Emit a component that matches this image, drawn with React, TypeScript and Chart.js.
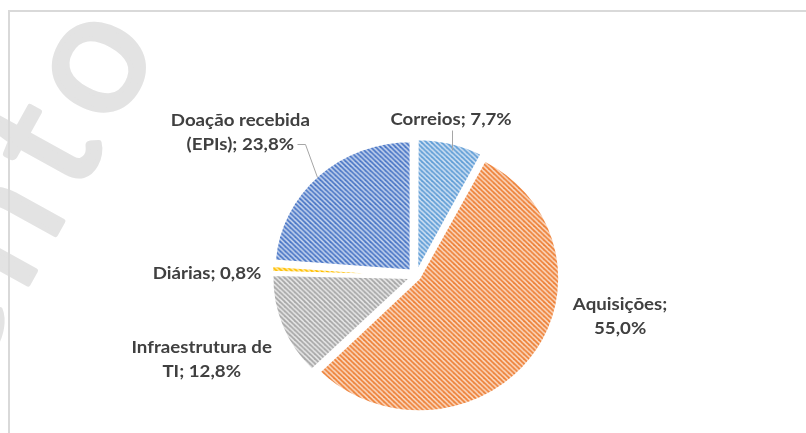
import React, { useEffect, useRef } from "react";
import { Chart, registerables } from "chart.js";

Chart.register(...registerables);

// ---- data ----
const categories = ["Correios", "Aquisições", "Infraestrutura de TI", "Diárias", "Doação recebida (EPIs)"];
const shares = [7.7, 55.0, 12.8, 0.8, 23.8];
const labelLines = [
  ["Correios; 7,7%"],
  ["Aquisições;", "55,0%"],
  ["Infraestrutura de", "TI; 12,8%"],
  ["Diárias; 0,8%"],
  ["Doação recebida", "(EPIs); 23,8%"],
];
const watermarkText = "Documento";

// ---- styles ----
const stripeColors = ["#5B9BD5", "#ED7D31", "#A5A5A5", "#FFC000", "#4472C4"];
const backColors = ["#d3e3f4", "#fbdcc7", "#e9e9e9", "#ffe7a0", "#cbd8f0"];

// label placement: angle shift from slice mid-angle (deg) and distance (px) from pie centre
const labelPlacement = [
  { shift: -1.2, dist: 160 },
  { shift: -25.5, dist: 208 },
  { shift: 0.2, dist: 230 },
  { shift: -2.2, dist: 209 },
  { shift: -7.9, dist: 227 },
];
// leader lines relative to pie centre
const leaders: Record<number, [number, number][]> = {
  0: [[36, -146], [36, -126]],
  4: [[-119, -132], [-111, -132], [-99, -99]],
};

const W = 806;
const H = 433;
const CX = 416;
const CY = 276;
const RADIUS = 136;
const SQUASH = 0.95;
const EXPLODE = 8;
const TEXT_STRETCH = 1.1;

function makePattern(stripe: string, back: string): CanvasPattern | string {
  const p = 5;
  const c = document.createElement("canvas");
  c.width = p;
  c.height = p;
  const g = c.getContext("2d");
  if (!g) return stripe;
  g.fillStyle = back;
  g.fillRect(0, 0, p, p);
  g.strokeStyle = stripe;
  g.lineWidth = 1.8;
  for (let k = -2; k <= 2; k++) {
    g.beginPath();
    g.moveTo(-p, -p + k * p);
    g.lineTo(2 * p, 2 * p + k * p);
    g.stroke();
  }
  const pat = g.createPattern(c, "repeat");
  return pat || stripe;
}

const decorPlugin = {
  id: "decor",
  beforeDraw(chart: any) {
    const ctx = chart.ctx as CanvasRenderingContext2D;
    ctx.save();
    ctx.fillStyle = "#ffffff";
    ctx.fillRect(0, 0, W, H);
    // watermark (drawn letter by letter, ending at the anchor)
    ctx.save();
    ctx.translate(160, 46);
    ctx.rotate((-61 * Math.PI) / 180);
    ctx.font = "170px Lato";
    ctx.fillStyle = "#e3e3e3";
    ctx.strokeStyle = "#e3e3e3";
    ctx.lineWidth = 5;
    ctx.lineJoin = "round";
    ctx.textAlign = "left";
    ctx.textBaseline = "alphabetic";
    const chars = watermarkText.split("");
    let x = 0;
    for (let i = chars.length - 1; i >= 0; i--) {
      const w = ctx.measureText(chars[i]).width;
      x -= w;
      ctx.fillText(chars[i], x, 0);
      ctx.strokeText(chars[i], x, 0);
      x -= 16;
    }
    ctx.restore();
    // frame
    ctx.fillStyle = "#d9d9d9";
    ctx.fillRect(8, 10, W - 8, 2);
    ctx.fillRect(8, 10, 2, H - 10);
    ctx.restore();
  },
  beforeDatasetsDraw(chart: any) {
    const ctx = chart.ctx as CanvasRenderingContext2D;
    const meta = chart.getDatasetMeta(0);
    const a = meta.data[0];
    ctx.save();
    ctx.translate(a.x, a.y);
    ctx.scale(1, SQUASH);
    ctx.translate(-a.x, -a.y);
  },
  afterDatasetsDraw(chart: any) {
    chart.ctx.restore();
  },
  afterDraw(chart: any) {
    const ctx = chart.ctx as CanvasRenderingContext2D;
    const meta = chart.getDatasetMeta(0);
    ctx.save();
    ctx.font = "bold 17px Lato";
    ctx.fillStyle = "#404040";
    ctx.textAlign = "center";
    ctx.textBaseline = "middle";
    meta.data.forEach((arc: any, i: number) => {
      const mid = (arc.startAngle + arc.endAngle) / 2;
      const pl = labelPlacement[i];
      const th = mid + (pl.shift * Math.PI) / 180;
      const x = arc.x + Math.cos(th) * pl.dist;
      const y = arc.y + Math.sin(th) * pl.dist;
      const lines = labelLines[i];
      const lh = 24;
      lines.forEach((t, j) => {
        ctx.save();
        ctx.translate(x, y + (j - (lines.length - 1) / 2) * lh);
        ctx.scale(TEXT_STRETCH, 1);
        ctx.fillText(t, 0, 0);
        ctx.restore();
      });
      const ld = leaders[i];
      if (ld) {
        ctx.strokeStyle = "#a6a6a6";
        ctx.lineWidth = 1;
        ctx.beginPath();
        ld.forEach(([dx, dy], k) => {
          const px = Math.round(arc.x + dx) + 0.5;
          const py = Math.round(arc.y + dy) + 0.5;
          if (k === 0) ctx.moveTo(px, py);
          else ctx.lineTo(px, py);
        });
        ctx.stroke();
      }
    });
    ctx.restore();
  },
};

export default function App() {
  const ref = useRef<HTMLCanvasElement | null>(null);
  useEffect(() => {
    if (!ref.current) return;
    const total = shares.reduce((s, v) => s + v, 0);
    const fills = stripeColors.map((s, i) => makePattern(s, backColors[i]));
    const chart = new Chart(ref.current, {
      type: "pie",
      data: {
        labels: categories,
        datasets: [
          {
            data: shares,
            backgroundColor: fills as any,
            borderColor: "#ffffff",
            borderWidth: 2,
            clip: false as any,
            // Chart.js moves an arc by offset/4 * (2 - sin(min(PI, circumference))); solve for a constant explode distance
            offset: ((c: any) => {
              const circ = (shares[c.dataIndex] / total) * Math.PI * 2;
              const fix = 1 - Math.sin(Math.min(Math.PI, circ));
              return (4 * EXPLODE) / (1 + fix);
            }) as any,
          },
        ],
      },
      options: {
        responsive: false,
        animation: false,
        radius: RADIUS,
        layout: {
          padding: { left: CX - 200, right: W - (CX + 200), top: CY - 100, bottom: H - (CY + 100) },
        },
        plugins: {
          legend: { display: false },
          tooltip: { enabled: false },
          title: { display: false },
        },
        events: [],
      } as any,
      plugins: [decorPlugin],
    });
    return () => chart.destroy();
  }, []);
  return (
    <div style={{ position: "absolute", left: 0, top: 0, width: W, height: H }}>
      <canvas ref={ref} width={W} height={H} style={{ display: "block", width: W, height: H }} />
    </div>
  );
}
